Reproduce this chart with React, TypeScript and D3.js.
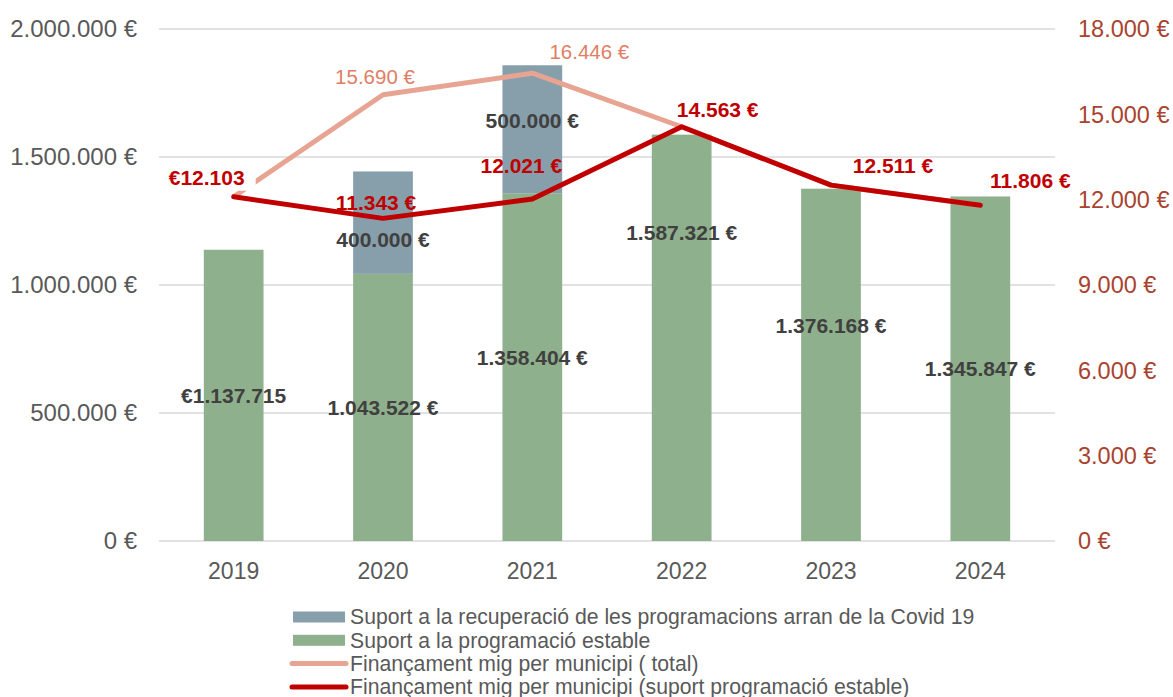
import React from "react";
import * as d3 from "d3";

const years = ["2019", "2020", "2021", "2022", "2023", "2024"];
const stable = [1137715, 1043522, 1358404, 1587321, 1376168, 1345847];
const covid = [0, 400000, 500000, 0, 0, 0];
const avgTotal = [12103, 15690, 16446, 14563, 12511, 11806];
const avgStable = [12103, 11343, 12021, 14563, 12511, 11806];
const leftTicks = [0, 500000, 1000000, 1500000, 2000000];
const rightTicks = [0, 3000, 6000, 9000, 12000, 15000, 18000];

const legendItems = [
  "Suport a la recuperació de les programacions arran de la Covid 19",
  "Suport a la programació estable",
  "Finançament mig per municipi ( total)",
  "Finançament mig per municipi (suport programació estable)",
];

// label nudges (px) relative to the anchor point
const stableLabelDy = [0, 0, -9, -105, -39, 0];
const covidLabelDy = [0, 17, -9, 0, 0, 0];
const avgStableLabelOff = [[-27, -19], [-7, -16], [-11, -33], [36, -17], [62, -19], [50, -25]];
const avgTotalLabelOff = [[0, 0], [-8, -18], [57, -21]];

const W = 1173;
const H = 697;
const FONT = "'Liberation Sans', Arial, sans-serif";
const GREEN = "#8FB08C";
const BLUE = "#879FAB";
const SALMON = "#E8A493";
const RED = "#C00000";
const GRID = "#D9D9D9";

const fmt = (v: number) => d3.format(",.0f")(v).replace(/,/g, ".");

export default function App() {
  const x = d3.scaleBand().domain(years).range([159, 1055]).paddingInner(0.6).paddingOuter(0.3);
  const yL = d3.scaleLinear().domain([0, 2000000]).range([541, 29]);
  const yR = d3.scaleLinear().domain([0, 18000]).range([541, 29]);
  const cx = (y: string) => (x(y) as number) + x.bandwidth() / 2;

  const line = d3
    .line<number>()
    .x((_, i) => cx(years[i]))
    .y((d) => yR(d));

  const lab12 = { x: cx(years[0]) + avgStableLabelOff[0][0], y: yR(avgStable[0]) + avgStableLabelOff[0][1] };

  return (
    <svg width={W} height={H} style={{ position: "absolute", left: 0, top: 0, fontFamily: FONT }}>
      <rect width={W} height={H} fill="#fff" />
      {leftTicks.map((t) => (
        <g key={t}>
          <line x1={159} x2={1055} y1={yL(t)} y2={yL(t)} stroke={GRID} strokeWidth={1.5} />
          <text x={137} y={yL(t)} dy="0.35em" textAnchor="end" fontSize={24} fill="#595959">
            {fmt(t)} €
          </text>
        </g>
      ))}
      {rightTicks.map((t) => (
        <text key={t} x={1078} y={yR(t)} dy="0.35em" fontSize={23.5} fill="#A9432F">
          {fmt(t)} €
        </text>
      ))}
      {years.map((yr) => (
        <text key={yr} x={cx(yr)} y={yL(0) + 38} textAnchor="middle" fontSize={23} fill="#595959">
          {yr}
        </text>
      ))}

      {years.map((yr, i) => (
        <g key={yr}>
          <rect x={x(yr)} width={x.bandwidth()} y={yL(stable[i])} height={yL(0) - yL(stable[i])} fill={GREEN} />
          {covid[i] > 0 && (
            <rect
              x={x(yr)}
              width={x.bandwidth()}
              y={yL(stable[i] + covid[i])}
              height={yL(stable[i]) - yL(stable[i] + covid[i])}
              fill={BLUE}
            />
          )}
        </g>
      ))}

      <path d={line(avgTotal) as string} fill="none" stroke={SALMON} strokeWidth={5} strokeLinejoin="round" />

      <rect x={lab12.x - 42} y={lab12.y - 13} width={91} height={26} fill="#fff" />

      <path d={line(avgStable) as string} fill="none" stroke={RED} strokeWidth={5} strokeLinejoin="round" strokeLinecap="round" />

      {years.map((yr, i) => (
        <g key={yr} fontWeight="bold" fontSize={21} fill="#404040" textAnchor="middle">
          <text x={cx(yr)} y={yL(stable[i] / 2) + stableLabelDy[i]} dy="0.35em">
            {i === 0 ? `€${fmt(stable[i])}` : `${fmt(stable[i])} €`}
          </text>
          {covid[i] > 0 && (
            <text x={cx(yr)} y={yL(stable[i] + covid[i] / 2) + covidLabelDy[i]} dy="0.35em">
              {fmt(covid[i])} €
            </text>
          )}
        </g>
      ))}

      {years.map((yr, i) =>
        i > 0 && i < 3 ? (
          <text
            key={yr}
            x={cx(yr) + avgTotalLabelOff[i][0]}
            y={yR(avgTotal[i]) + avgTotalLabelOff[i][1]}
            dy="0.35em"
            textAnchor="middle"
            fontSize={20.5}
            fill="#E07E64"
          >
            {fmt(avgTotal[i])} €
          </text>
        ) : null
      )}

      {years.map((yr, i) => (
        <text
          key={yr}
          x={cx(yr) + avgStableLabelOff[i][0]}
          y={yR(avgStable[i]) + avgStableLabelOff[i][1]}
          dy="0.35em"
          textAnchor="middle"
          fontSize={21}
          fontWeight="bold"
          fill={RED}
        >
          {i === 0 ? `€${fmt(avgStable[i])}` : `${fmt(avgStable[i])} €`}
        </text>
      ))}

      {legendItems.map((name, i) => {
        const ly = 617 + i * 23.3;
        return (
          <g key={name}>
            {i < 2 ? (
              <rect x={293} y={ly - 5.5} width={52} height={11} fill={i === 0 ? BLUE : GREEN} />
            ) : (
              <line x1={292} x2={346} y1={ly} y2={ly} stroke={i === 2 ? SALMON : RED} strokeWidth={5} strokeLinecap="round" />
            )}
            <text x={350} y={ly} dy="0.35em" fontSize={21.2} fill="#595959">
              {name}
            </text>
          </g>
        );
      })}
    </svg>
  );
}
